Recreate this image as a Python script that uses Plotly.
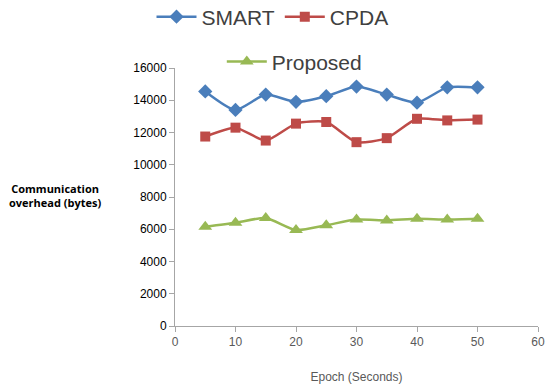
import plotly.graph_objects as go

epochs = [5, 10, 15, 20, 25, 30, 35, 40, 45, 50]
smart = [14550, 13400, 14350, 13900, 14250, 14850, 14350, 13850, 14800, 14800]
cpda = [11750, 12300, 11500, 12550, 12650, 11400, 11650, 12850, 12750, 12800]
proposed = [6150, 6400, 6700, 5950, 6250, 6600, 6550, 6650, 6600, 6650]

x_ticks = [0, 10, 20, 30, 40, 50, 60]
y_ticks = [0, 2000, 4000, 6000, 8000, 10000, 12000, 14000, 16000]

series = [
    ("SMART", smart, "#4A7EBB", "diamond", 11, "legend"),
    ("CPDA", cpda, "#BE4B48", "square", 10, "legend"),
    ("Proposed", proposed, "#98B954", "triangle-up", 12, "legend2"),
]

fig = go.Figure()
for name, vals, color, symbol, size, leg in series:
    fig.add_trace(go.Scatter(
        x=epochs, y=vals, name=name, mode="lines+markers",
        line=dict(color=color, width=2.5, shape="spline", smoothing=0.6),
        marker=dict(symbol=symbol, size=size, color=color),
        legend=leg,
    ))

axis_font = dict(family="Liberation Sans, Arial, sans-serif", size=12, color="#595959")
legend_font = dict(family="Liberation Sans, Arial, sans-serif", size=21, color="#404040")

fig.update_layout(
    width=545, height=386,
    margin=dict(l=175, r=7, t=68, b=60, autoexpand=False),
    paper_bgcolor="white", plot_bgcolor="white",
    showlegend=True,
    legend=dict(
        orientation="h", xref="container", x=0.5, xanchor="center",
        yref="container", y=0.956, yanchor="middle",
        font=legend_font, itemwidth=40, bgcolor="rgba(0,0,0,0)",
    ),
    legend2=dict(
        orientation="h", xref="container", x=0.54, xanchor="center",
        yref="container", y=0.84, yanchor="middle",
        font=legend_font, itemwidth=40, bgcolor="rgba(0,0,0,0)",
    ),
    xaxis=dict(
        range=[0, 60], tickvals=x_ticks, ticks="outside", ticklen=5, tickcolor="#A6A6A6",
        showline=True, linecolor="#A6A6A6", linewidth=1, showgrid=False, zeroline=False,
        tickfont=axis_font,
        title=dict(text="Epoch (Seconds)", font=axis_font, standoff=24),
    ),
    yaxis=dict(
        range=[0, 16000], tickvals=y_ticks, ticktext=[str(v) for v in y_ticks],
        ticks="outside", ticklen=5, tickcolor="#A6A6A6",
        showline=True, linecolor="#A6A6A6", linewidth=1, showgrid=False, zeroline=False,
        tickfont=dict(family="Liberation Sans, Arial, sans-serif", size=12, color="#000000"),
    ),
    annotations=[dict(
        text="<b>Communication<br>overhead (bytes)</b>",
        xref="paper", yref="paper", x=-0.33, y=0.505, xanchor="center", yanchor="middle",
        showarrow=False, align="center",
        font=dict(family="Open Sans, Liberation Sans, sans-serif", size=11, color="#000000"),
    )],
)

fig.write_html("out.html")
